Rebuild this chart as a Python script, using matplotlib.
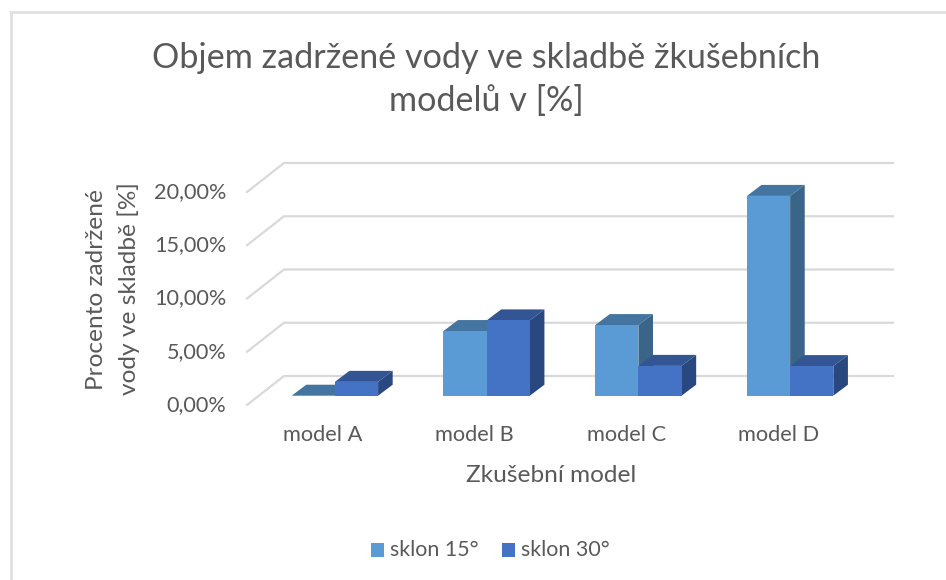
import numpy as np
import matplotlib
matplotlib.use("Agg")
import matplotlib.pyplot as plt
from matplotlib.patches import Polygon, Rectangle
from matplotlib.transforms import ScaledTranslation

categories = ["model A", "model B", "model C", "model D"]
sklon_15 = [0.0, 6.07, 6.63, 18.76]
sklon_30 = [1.3, 7.07, 2.8, 2.78]
series_names = ["sklon 15°", "sklon 30°"]
y_ticks = [0, 5, 10, 15, 20]
y_tick_labels = ["0,00%", "5,00%", "10,00%", "15,00%", "20,00%"]

W, H = 946, 580
TEXT = "#595959"
GRID = "#d9d9d9"

plt.rcParams["font.family"] = ["Lato", "DejaVu Sans"]

fig = plt.figure(figsize=(W / 100, H / 100), dpi=100)

# helper axes in pixels for the frame
bg = fig.add_axes([0, 0, 1, 1])
bg.set_xlim(0, W)
bg.set_ylim(H, 0)
bg.axis("off")
bg.plot([11, 11], [H, 12], color="#e0e0e0", lw=2)
bg.plot([11, W], [12, 12], color="#e0e0e0", lw=2)

# front plane: 247..854 px wide, 0 % at y=405, 20 % at y=192
left, right = 247, 854
ax = fig.add_axes([left / W, (H - 405) / H, (right - left) / W, 213 / H])
ax.set_xlim(-0.5, 3.5)
ax.set_ylim(0, 20)
ax.patch.set_alpha(0)
for s in ax.spines.values():
    s.set_visible(False)

px_x = 4 / (right - left)
px_y = 20 / 213


def to_dx(p):
    return p * px_x


def to_dy(p):
    return p * px_y


# walls/gridlines
floor_dx, floor_dy = to_dx(37), to_dy(29)
for v in y_ticks:
    ax.plot([-0.5, -0.5 + floor_dx, 3.5 + to_dx(39)],
            [v, v + floor_dy, v + floor_dy],
            color=GRID, lw=1.6, clip_on=False, zorder=1)

# bars are oblique boxes
bar_w = to_dx(43.2)
off_x, off_y = to_dx(12), to_dy(9.3)
dep_x, dep_y = to_dx(14.6), to_dy(11)


def box(x0, h, front, top, side, z):
    x = x0 + off_x
    y = off_y
    ax.add_patch(Polygon([(x, y + h), (x + dep_x, y + h + dep_y),
                          (x + bar_w + dep_x, y + h + dep_y), (x + bar_w, y + h)],
                         fc=top, ec="none", clip_on=False, zorder=z))
    ax.add_patch(Polygon([(x + bar_w, y), (x + bar_w + dep_x, y + dep_y),
                          (x + bar_w + dep_x, y + h + dep_y), (x + bar_w, y + h)],
                         fc=side, ec="none", clip_on=False, zorder=z))
    ax.add_patch(Rectangle((x, y), bar_w, h, fc=front, ec="none", clip_on=False, zorder=z + 0.1))


for i in range(len(categories)):
    box(i - bar_w, sklon_15[i], "#5b9bd5", "#4475a0", "#3a6588", 3)
    box(i, sklon_30[i], "#4472c4", "#335593", "#2a4880", 4)

ax.set_xticks(range(len(categories)))
ax.set_xticklabels(categories, fontsize=15.7, color=TEXT)
ax.set_yticks(y_ticks)
ax.set_yticklabels(y_tick_labels, fontsize=15.6, color=TEXT)
ax.tick_params(axis="both", length=0)
ax.tick_params(axis="x", pad=14.5)
ax.tick_params(axis="y", pad=15)

# y labels sit a little higher than the tick height
nudge = ScaledTranslation(0, 2 / 100, fig.dpi_scale_trans)
for lab in ax.get_yticklabels():
    lab.set_transform(lab.get_transform() + nudge)

fig.text(486 / W, 1 - 58 / H, "Objem zadržené vody ve skladbě žkušebních",
         fontsize=24.6, color=TEXT, ha="center", va="center")
fig.text(486 / W, 1 - 101 / H, "modelů v [%]",
         fontsize=24.6, color=TEXT, ha="center", va="center")
fig.text(551 / W, 1 - 475 / H, "Zkušební model", fontsize=17.6, color=TEXT, ha="center", va="center")
fig.text(96 / W, 1 - 289 / H, "Procento zadržené", fontsize=17.6, color=TEXT,
         rotation=90, ha="center", va="center")
fig.text(129 / W, 1 - 289 / H, "vody ve skladbě [%]", fontsize=17.6, color=TEXT,
         rotation=90, ha="center", va="center")

# legend
for lx, tx, name, c in zip([371, 502], [390, 521], series_names, ["#5b9bd5", "#4472c4"]):
    bg.add_patch(Rectangle((lx, 543), 13, 14, fc=c, ec="none"))
    bg.text(tx, 550, name, fontsize=15.4, color=TEXT, ha="left", va="center")

fig.savefig("out.png", dpi=100)
